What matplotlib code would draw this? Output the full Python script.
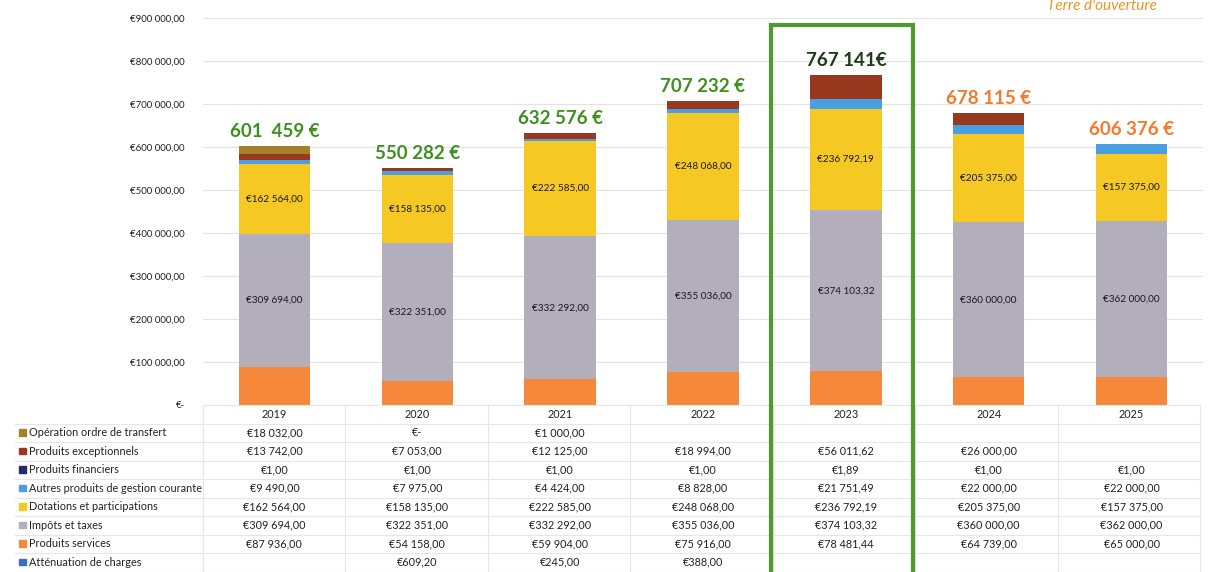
import matplotlib
matplotlib.use("Agg")
import matplotlib.pyplot as plt
from matplotlib.patches import Rectangle
import matplotlib.transforms as mtransforms
import numpy as np

plt.rcParams['font.family'] = ['Lato', 'DejaVu Sans']

years = ['2019', '2020', '2021', '2022', '2023', '2024', '2025']

# series in table order (top -> bottom); stacking is reversed (bottom = last)
series_names = [
    'Opération ordre de transfert',
    'Produits exceptionnels',
    'Produits financiers',
    'Autres produits de gestion courante',
    'Dotations et participations',
    'Impôts et taxes',
    'Produits services',
    'Atténuation de charges',
]
operation = [18032.00, 0.0, 1000.00, None, None, None, None]
exceptionnels = [13742.00, 7053.00, 12125.00, 18994.00, 56011.62, 26000.00, None]
financiers = [1.00, 1.00, 1.00, 1.00, 1.89, 1.00, 1.00]
autres = [9490.00, 7975.00, 4424.00, 8828.00, 21751.49, 22000.00, 22000.00]
dotations = [162564.00, 158135.00, 222585.00, 248068.00, 236792.19, 205375.00, 157375.00]
impots = [309694.00, 322351.00, 332292.00, 355036.00, 374103.32, 360000.00, 362000.00]
services = [87936.00, 54158.00, 59904.00, 75916.00, 78481.44, 64739.00, 65000.00]
attenuation = [None, 609.20, 245.00, 388.00, None, None, None]

series_values = [operation, exceptionnels, financiers, autres, dotations, impots, services, attenuation]
series_colors = ['#a7802c', '#98391f', '#1f2f6e', '#4a9fe2', '#f6c823', '#b3aebb', '#f5883a', '#3a6fc4']

total_labels = ['601  459 €', '550 282 €', '632 576 €', '707 232 €', '767 141€', '678 115 €', '606 376 €']
total_colors = ['#3f8f1f', '#3f8f1f', '#3f8f1f', '#3f8f1f', '#1d3a1a', '#f47a2a', '#f47a2a']
labelled_series = ['Dotations et participations', 'Impôts et taxes']

yticks = [0, 100000, 200000, 300000, 400000, 500000, 600000, 700000, 800000, 900000]


def fmt_eur(v):
    if v is None:
        return ''
    if v == 0:
        return '€-'
    s = f"{v:,.2f}"
    ip, dp = s.split('.')
    ip = ip.replace(',', ' ')
    return f"€{ip},{dp}"


W, H = 1214, 572
fig = plt.figure(figsize=(W / 100, H / 100), dpi=100)
ax = fig.add_axes([203 / W, 1 - 405 / H, (1203 - 203) / W, (405 - 18) / H])

x = np.arange(len(years))
bottom = np.zeros(len(years))
for name, vals, col in reversed(list(zip(series_names, series_values, series_colors))):
    v = np.array([0.0 if a is None else a for a in vals])
    ax.bar(x, v, 0.5, bottom=bottom, color=col, edgecolor='none', zorder=2)
    if name in labelled_series:
        for xi, (b, vi) in enumerate(zip(bottom, v)):
            ax.text(xi, b + vi / 2, fmt_eur(vi), ha='center', va='center',
                    fontsize=7.2, color='#1a1a1a', zorder=3)
    bottom = bottom + v

for xi, (tot, lab, col) in enumerate(zip(bottom, total_labels, total_colors)):
    ax.annotate(lab, (xi, tot), xytext=(0, 4.5), textcoords='offset points',
                ha='center', va='bottom', fontsize=13.5, fontweight='bold', color=col)

ax.set_xlim(-0.5, len(years) - 0.5)
ax.set_ylim(0, 900000)
ax.set_yticks(yticks)
ax.set_yticklabels([fmt_eur(t) if t else '€-' for t in yticks], fontsize=7, color='#222222')
ax.yaxis.grid(True, color='#e3e3e3', linewidth=0.8, zorder=0)
ax.set_axisbelow(True)
ax.tick_params(axis='y', length=0, pad=13)
ax.tick_params(axis='x', length=0, labelbottom=False)
for sp in ax.spines.values():
    sp.set_visible(False)

# data table below the chart
trans = mtransforms.blended_transform_factory(ax.transData, fig.transFigure)
ftr = fig.transFigure
row_top = 405
row_h = 18.5
n_rows = len(series_names) + 1
line_col = '#e6e6e6'
for r in range(n_rows + 1):
    yy = 1 - (row_top + r * row_h) / H
    x0 = 203 / W if r == 0 else 15 / W
    fig.add_artist(plt.Line2D([x0, 1200 / W], [yy, yy], color=line_col, lw=0.8, transform=ftr))
for k in range(len(years) + 1):
    xx = (203 + k * (1200 - 203) / len(years)) / W
    fig.add_artist(plt.Line2D([xx, xx], [1 - row_top / H, 1 - (row_top + n_rows * row_h) / H],
                              color=line_col, lw=0.8, transform=ftr))
for xi, yr in enumerate(years):
    fig.text(xi, 1 - (row_top + row_h / 2) / H, yr, transform=trans, ha='center', va='center',
             fontsize=7.8, color='#222222')
for r, (name, vals, col) in enumerate(zip(series_names, series_values, series_colors)):
    yc = 1 - (row_top + (r + 1.5) * row_h) / H
    fig.add_artist(Rectangle((19 / W, yc - 3.2 / H), 6.5 / W, 6.5 / H, color=col, transform=ftr))
    fig.text(29 / W, yc, name, ha='left', va='center', fontsize=7.8, color='#222222')
    for xi, v in enumerate(vals):
        fig.text(xi, yc, fmt_eur(v), transform=trans, ha='center', va='center',
                 fontsize=7.8, color='#222222')

# green highlight box around 2023
fig.add_artist(Rectangle((771 / W, -0.01), (913 - 771) / W, 1 - 25 / H + 0.01, fill=False,
                         edgecolor='#4f9a2c', lw=3, transform=ftr, zorder=5))

# logo text (partially cut at top)
fig.text(1102 / W, 1 - 6 / H, "Terre d'ouverture", ha='center', va='center', fontsize=11,
         style='italic', color='#e8962a')

fig.savefig('out.png', dpi=100, facecolor='white')
